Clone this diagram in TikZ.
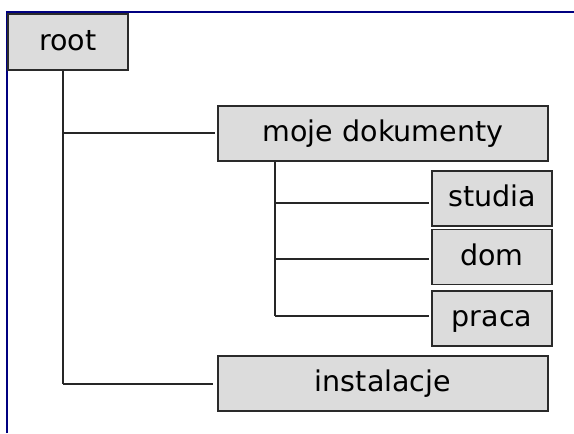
\documentclass[tikz,border=0pt]{standalone}
\usepackage{fontspec}
\setmainfont{DejaVu Sans}
\definecolor{framenavy}{HTML}{000080}
\definecolor{boxfill}{HTML}{DCDCDC}
\definecolor{boxedge}{HTML}{2A2A2A}
\begin{document}
\begin{tikzpicture}[x=0.75pt,y=-0.75pt,
  box/.style={draw=boxedge, fill=boxfill, line width=1.2pt, inner sep=0pt,
    text height=12.2pt, text depth=0pt, font=\fontsize{21.4}{25}\selectfont},
  smallbox/.style={box, minimum width=90pt, minimum height=41.25pt},
  widebox/.style={box, minimum width=247.5pt, minimum height=41.25pt},
  conn/.style={draw=black!85, line width=1.1pt}]
\useasboundingbox (0,0) rectangle (574,433);
\fill[white] (0,0) rectangle (574,433);
\draw[framenavy, line width=1.8pt] (7,433) -- (7,12) -- (574,12);

\node[smallbox, minimum height=42pt] (root) at (68,42) {root};
\node[widebox] (moje) at (383,133.5) {moje dokumenty};
\node[smallbox] (studia) at (492,198.5) {studia};
\node[smallbox] (dom) at (492,257) {dom};
\node[smallbox] (praca) at (492,318.5) {praca};
\node[widebox] (inst) at (383,383.5) {instalacje};

\coordinate (rA) at (63,133);
\coordinate (rB) at (63,384);
\coordinate (mA) at (275,203);
\coordinate (mB) at (275,259);
\coordinate (mC) at (275,316);

\draw[conn] (root.south -| rB) -- (rB);
\draw[conn, shorten >=1.5pt] (rA) -- (rA -| moje.west);
\draw[conn, shorten >=3.5pt] (rB) -- (rB -| inst.west);
\draw[conn] (moje.south -| mC) -- (mC);
\draw[conn, shorten >=2pt] (mA) -- (mA -| studia.west);
\draw[conn, shorten >=2pt] (mB) -- (mB -| dom.west);
\draw[conn, shorten >=2pt] (mC) -- (mC -| praca.west);
\end{tikzpicture}
\end{document}
